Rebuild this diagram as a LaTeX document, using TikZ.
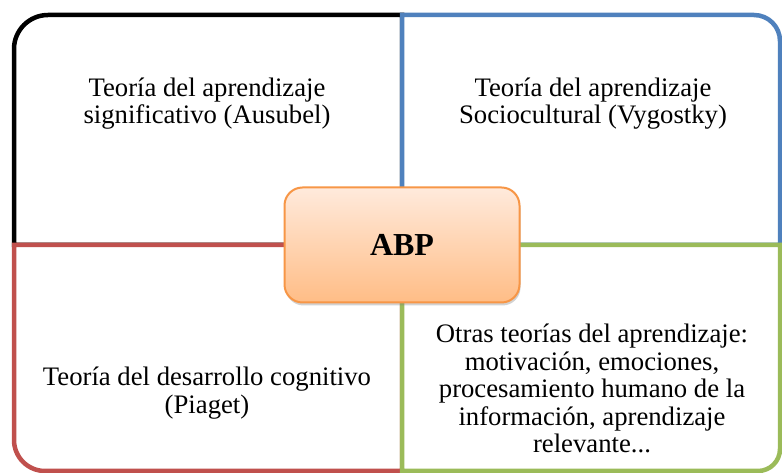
\documentclass[tikz,border=0pt]{standalone}
\usepackage{fontspec}
\setmainfont{Liberation Serif}
\usepackage{xcolor}
\usetikzlibrary{shadows}

\definecolor{quadblack}{HTML}{000000}
\definecolor{quadblue}{HTML}{4F81BD}
\definecolor{quadred}{HTML}{C0504D}
\definecolor{quadgreen}{HTML}{9BBB59}
\definecolor{hubline}{HTML}{F79646}
\definecolor{hubtop}{HTML}{FFEADC}
\definecolor{hubbottom}{HTML}{FFBD86}

\begin{document}
\begin{tikzpicture}[x=1pt,y=1pt,
                    quad/.style={line width=4.5pt,fill=white},
                    theory node/.style={align=center,font=\fontsize{26.7}{27.5}\selectfont},
                    hub node/.style={rectangle,rounded corners=18pt,draw=hubline,line width=2pt,
                      top color=hubtop,bottom color=hubbottom,
                      minimum width=235pt,minimum height=115pt,
                      drop shadow={shadow xshift=1pt,shadow yshift=-3pt,opacity=0.35},
                      font=\fontsize{32}{36}\selectfont\bfseries}]
\useasboundingbox (0,0) rectangle (782,473);

% quadrants
\draw[quad,draw=quadblack] (402,228) -- (402,458) -- (48,458)
  arc[start angle=90,end angle=180,radius=34] -- (14,228) -- cycle;
\draw[quad,draw=quadblue] (402,228) -- (402,458) -- (754,458)
  arc[start angle=90,end angle=0,radius=26] -- (780,228) -- cycle;
\draw[quad,draw=quadred] (402,228) -- (14,228) -- (14,33)
  arc[start angle=180,end angle=270,radius=31] -- (402,2) -- cycle;
\draw[quad,draw=quadgreen] (402,228) -- (780,228) -- (780,24)
  arc[start angle=0,end angle=-90,radius=22] -- (402,2) -- cycle;

\node[theory node] (ausubel) at (207,369.5) {Teoría del aprendizaje\\significativo (Ausubel)};
\node[theory node] (vygostky) at (593,369.5) {Teoría del aprendizaje\\Sociocultural (Vygostky)};
\node[theory node] (piaget) at (207,80) {Teoría del desarrollo cognitivo\\(Piaget)};
\node[theory node] (otras) at (592,84.5) {Otras teorías del aprendizaje:\\motivación, emociones,\\procesamiento humano de la\\información, aprendizaje\\relevante...};

\node[hub node] (abp) at (402,228) {ABP};

\end{tikzpicture}
\end{document}
